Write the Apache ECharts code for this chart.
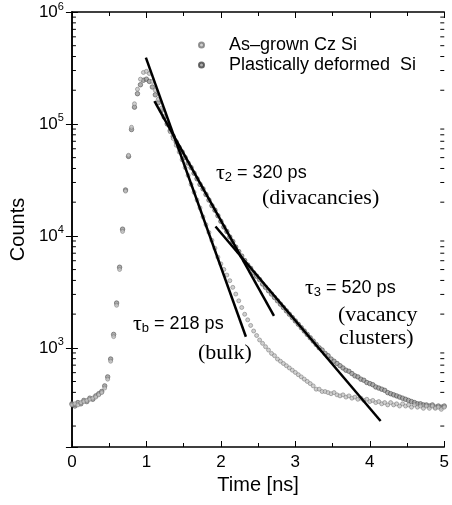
<!DOCTYPE html>
<html>
<head>
<meta charset="utf-8">
<script src="https://cdn.jsdelivr.net/npm/echarts@6/dist/echarts.min.js"></script>
<style>
html, body { margin: 0; padding: 0; background: #fff; }
#chart { width: 452px; height: 505px; }
</style>
</head>
<body>
<div id="chart"></div>
<script>
// time channels [ns]
const times = [
  0, 0.04, 0.08, 0.12, 0.16, 0.2, 0.24, 0.28, 0.32, 0.36,
  0.4, 0.44, 0.48, 0.52, 0.56, 0.6, 0.64, 0.68, 0.72, 0.76,
  0.8, 0.84, 0.88, 0.92, 0.96, 1, 1.04, 1.08, 1.12, 1.16,
  1.2, 1.24, 1.28, 1.32, 1.36, 1.4, 1.44, 1.48, 1.52, 1.56,
  1.6, 1.64, 1.68, 1.72, 1.76, 1.8, 1.84, 1.88, 1.92, 1.96,
  2, 2.04, 2.08, 2.12, 2.16, 2.2, 2.24, 2.28, 2.32, 2.36,
  2.4, 2.44, 2.48, 2.52, 2.56, 2.6, 2.64, 2.68, 2.72, 2.76,
  2.8, 2.84, 2.88, 2.92, 2.96, 3, 3.04, 3.08, 3.12, 3.16,
  3.2, 3.24, 3.28, 3.32, 3.36, 3.4, 3.44, 3.48, 3.52, 3.56,
  3.6, 3.64, 3.68, 3.72, 3.76, 3.8, 3.84, 3.88, 3.92, 3.96,
  4, 4.04, 4.08, 4.12, 4.16, 4.2, 4.24, 4.28, 4.32, 4.36,
  4.4, 4.44, 4.48, 4.52, 4.56, 4.6, 4.64, 4.68, 4.72, 4.76,
  4.8, 4.84, 4.88, 4.92, 4.96, 5
];

const asGrown = [
  309, 316, 309, 324, 331, 339, 347, 355, 363, 380,
  398, 437, 525, 759, 1259, 2399, 5012, 10960, 25120, 52480,
  93330, 151400, 204200, 251200, 288400, 295100, 281800, 239900, 199500, 166000,
  138000, 117500, 100000, 85110, 74130, 64570, 56230, 47860, 40740, 34670,
  28840, 24550, 20890, 17780, 14790, 12590, 10720, 9120, 7762, 6457,
  5623, 5012, 4467, 3981, 3467, 3020, 2630, 2291, 1995, 1778,
  1585, 1413, 1288, 1175, 1096, 1023, 955, 891, 851, 794,
  759, 724, 692, 661, 631, 603, 575, 550, 525, 501,
  479, 457, 427, 427, 407, 407, 398, 389, 398, 380,
  372, 380, 363, 372, 355, 363, 347, 355, 339, 347,
  331, 339, 324, 331, 316, 324, 309, 324, 309, 316,
  302, 316, 302, 309, 295, 309, 295, 302, 288, 302,
  288, 302, 288, 295, 282, 295
];

const deformed = [
  316, 302, 324, 316, 339, 331, 355, 347, 372, 389,
  407, 457, 550, 794, 1318, 2512, 5248, 11480, 25700, 51290,
  89130, 141300, 186200, 223900, 245500, 251200, 239900, 213800, 182000, 154900,
  131800, 114800, 100000, 87100, 77620, 69180, 61660, 56230, 50120, 44670,
  40740, 36310, 32360, 28840, 26300, 23440, 20890, 18620, 16980, 15140,
  13490, 12020, 10960, 9772, 8913, 7943, 7244, 6607, 6026, 5495,
  5129, 4677, 4365, 4074, 3715, 3467, 3236, 3020, 2818, 2630,
  2455, 2291, 2138, 1995, 1862, 1738, 1622, 1514, 1413, 1318,
  1230, 1148, 1072, 1000, 955, 891, 851, 794, 759, 724,
  692, 661, 631, 617, 589, 562, 550, 525, 513, 490,
  479, 468, 447, 437, 427, 417, 398, 389, 380, 372,
  363, 355, 347, 339, 331, 324, 316, 316, 309, 309,
  302, 309, 295, 302, 295, 302
];

// fitted exponential components (start / end points)
const fitBulk = [[0.993, 391000], [2.336, 1256]];
const fitDivac = [[1.108, 159600], [2.713, 1928]];
const fitClust = [[1.928, 12130], [4.145, 222]];

// log axis minor ticks
const minorTicks = [
  200, 300, 400, 500, 600, 700, 800, 900,
  2000, 3000, 4000, 5000, 6000, 7000, 8000, 9000,
  20000, 30000, 40000, 50000, 60000, 70000, 80000, 90000,
  200000, 300000, 400000, 500000, 600000, 700000, 800000, 900000
];

const seriesNames = ['As\u2013grown Cz Si', 'Plastically deformed  Si'];

const chart = echarts.init(document.getElementById('chart'));

const pair = (xs, ys) => xs.map((t, i) => [t, ys[i]]);
const sans = 'Liberation Sans, Arial, sans-serif';
const serif = 'Liberation Serif, Times New Roman, serif';

const powLabel = v => {
    const e = Math.round(Math.log10(v));
    if (Math.abs(Math.log10(v) - e) > 1e-6) return '';
    return '10{sup|' + e + '}';
};

const xAxisBase = {
    type: 'value', min: 0, max: 5, interval: 1,
    axisLine: { onZero: false, lineStyle: { color: '#000', width: 1.5 } },
    axisTick: { inside: true, length: 6, lineStyle: { color: '#000' } },
    minorTick: { show: true, splitNumber: 2, length: 4, lineStyle: { color: '#000' } },
    splitLine: { show: false }
};
const yAxisBase = {
    type: 'log', logBase: 10, min: 130, max: 1000000,
    axisLine: { lineStyle: { color: '#000', width: 1.5 } },
    axisTick: { inside: true, length: 6, lineStyle: { color: '#000' } },
    splitLine: { show: false }
};

const fitLine = data => ({
    type: 'line', data: data, symbol: 'none', silent: true,
    lineStyle: { color: '#000', width: 2.5 }, z: 4
});

const tauText = (sub, rest) => '{tau|\u03c4}{sub|' + sub + '}{t|' + rest + '}';
const tauRich = {
    tau: { fontFamily: serif, fontSize: 22, fill: '#000' },
    sub: { fontFamily: sans, fontSize: 13, verticalAlign: 'bottom', padding: [9, 0, 0, 0] },
    t: { fontFamily: sans, fontSize: 18 }
};
const serifFont = '22px ' + serif;

let option = {
    backgroundColor: '#fff',
    animation: false,
    grid: { left: 71, right: 5, top: 12, bottom: 58 },
    legend: {
        left: 193, top: 31, orient: 'vertical', itemGap: 2,
        itemWidth: 5, itemHeight: 5,
        textStyle: { fontFamily: sans, fontSize: 18, color: '#000', padding: [0, 0, 0, 20] },
        data: [
            { name: seriesNames[0], icon: 'circle' },
            { name: seriesNames[1], icon: 'circle' }
        ]
    },
    xAxis: [
        Object.assign({}, xAxisBase, {
            position: 'bottom',
            name: 'Time [ns]', nameLocation: 'middle', nameGap: 28,
            nameTextStyle: { fontFamily: sans, fontSize: 20, color: '#000' },
            axisLabel: { fontFamily: sans, fontSize: 17, color: '#000', margin: 7 }
        }),
        Object.assign({}, xAxisBase, { position: 'top', axisLabel: { show: false } })
    ],
    yAxis: [
        Object.assign({}, yAxisBase, {
            position: 'left',
            name: 'Counts', nameLocation: 'middle', nameGap: 41,
            nameTextStyle: { fontFamily: sans, fontSize: 20, color: '#000' },
            axisLabel: {
                fontFamily: sans, fontSize: 17, color: '#000', margin: 8,
                formatter: powLabel,
                rich: { sup: { fontSize: 11, verticalAlign: 'top', padding: [0, 0, 11, 0] } }
            }
        }),
        Object.assign({}, yAxisBase, { position: 'right', axisLabel: { show: false } })
    ],
    graphic: [
        { type: 'text', left: 216, top: 162, style: { text: tauText('2', ' = 320 ps'), rich: tauRich, fill: '#000' } },
        { type: 'text', left: 262, top: 187, style: { text: '(divacancies)', font: serifFont, fill: '#000' } },
        { type: 'text', left: 305, top: 277, style: { text: tauText('3', ' = 520 ps'), rich: tauRich, fill: '#000' } },
        { type: 'text', left: 338, top: 304, style: { text: '(vacancy', font: serifFont, fill: '#000' } },
        { type: 'text', left: 339, top: 327, style: { text: 'clusters)', font: serifFont, fill: '#000' } },
        { type: 'text', left: 133, top: 313, style: { text: tauText('b', ' = 218 ps'), rich: tauRich, fill: '#000' } },
        { type: 'text', left: 198, top: 342, style: { text: '(bulk)', font: serifFont, fill: '#000' } }
    ],
    series: [
        {
            type: 'custom', silent: true, clip: false, z: 1,
            data: minorTicks.map(v => [0, v]),
            renderItem(params, api) {
                const y = api.coord([0, api.value(1)])[1];
                const cs = params.coordSys;
                const style = { stroke: '#000', lineWidth: 1 };
                return {
                    type: 'group', children: [
                        { type: 'line', shape: { x1: cs.x, y1: y, x2: cs.x + 4, y2: y }, style },
                        { type: 'line', shape: { x1: cs.x + cs.width, y1: y, x2: cs.x + cs.width - 4, y2: y }, style }
                    ]
                };
            }
        },
        {
            name: seriesNames[0], type: 'scatter', data: pair(times, asGrown),
            symbolSize: 4, z: 3,
            itemStyle: { color: '#c4c4c4', borderColor: '#777', borderWidth: 0.7 }
        },
        {
            name: seriesNames[1], type: 'scatter', data: pair(times, deformed),
            symbolSize: 4.5, z: 2,
            itemStyle: { color: '#9a9a9a', borderColor: '#444', borderWidth: 0.7 }
        },
        fitLine(fitBulk),
        fitLine(fitDivac),
        fitLine(fitClust)
    ]
};
chart.setOption(option);
</script>
</body>
</html>
